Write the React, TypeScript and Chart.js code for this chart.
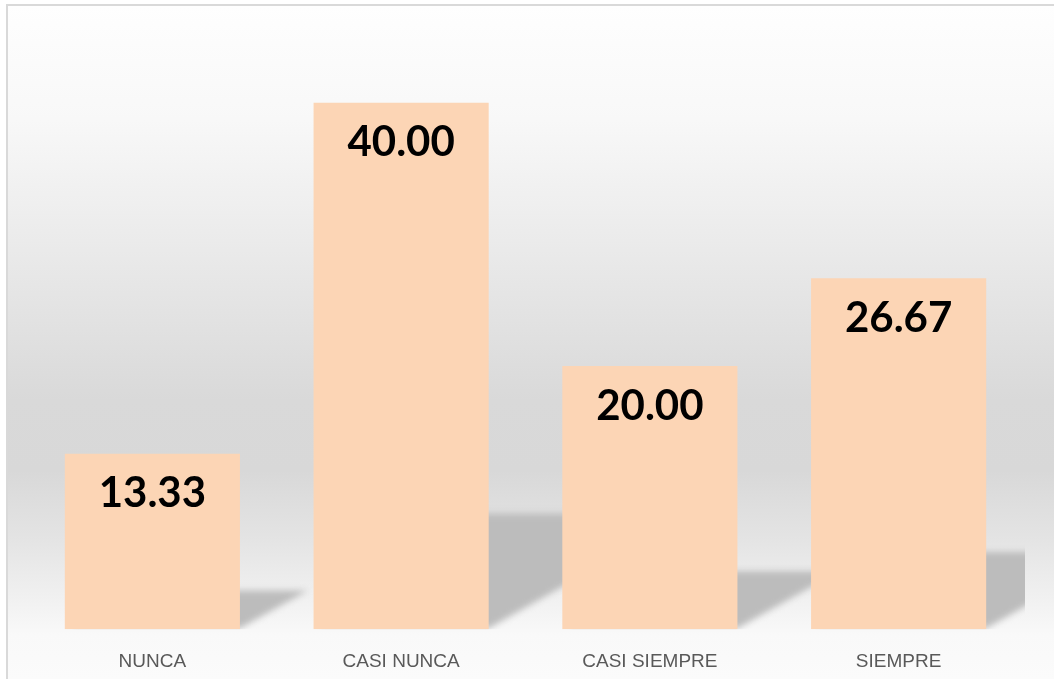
import React, { useEffect, useRef } from "react";
import { Chart, registerables } from "chart.js";

Chart.register(...registerables);

const categories = ["NUNCA", "CASI NUNCA", "CASI SIEMPRE", "SIEMPRE"];
const values = [13.33, 40.0, 20.0, 26.67];
const valueLabels = ["13.33", "40.00", "20.00", "26.67"];
const yMax = 45;

const W = 1054;
const H = 679;

const backgroundPlugin = {
  id: "bgPlugin",
  beforeDraw(chart: any) {
    const ctx = chart.ctx;
    ctx.save();
    ctx.fillStyle = "#ffffff";
    ctx.fillRect(0, 0, W, H);
    const g = ctx.createLinearGradient(0, 5, 0, H);
    const stop = (y: number, c: string) => g.addColorStop((y - 5) / (H - 5), c);
    stop(5, "#fefefe");
    stop(120, "#f8f8f8");
    stop(250, "#eaeaea");
    stop(400, "#d9d9d9");
    stop(470, "#d8d8d8");
    stop(540, "#e4e4e4");
    stop(600, "#f1f1f1");
    stop(635, "#f9f9f9");
    stop(679, "#fbfbfb");
    ctx.fillStyle = g;
    ctx.fillRect(7, 5, W - 7, H - 5);
    ctx.strokeStyle = "#d9d9d9";
    ctx.lineWidth = 2;
    ctx.beginPath();
    ctx.moveTo(7, H);
    ctx.lineTo(7, 5);
    ctx.lineTo(W, 5);
    ctx.stroke();
    ctx.restore();
  },
};

const shadowPlugin = {
  id: "shadowPlugin",
  beforeDatasetsDraw(chart: any) {
    const ctx = chart.ctx;
    const area = chart.chartArea;
    const meta = chart.getDatasetMeta(0);
    ctx.save();
    ctx.beginPath();
    ctx.rect(area.left, area.top, area.right - area.left + 2, area.bottom - area.top);
    ctx.clip();
    ctx.filter = "blur(3px)";
    ctx.fillStyle = "#bcbcbc";
    meta.data.forEach((bar: any) => {
      const p = bar.getProps(["x", "y", "width", "base"], true);
      const x0 = p.x - p.width / 2 + 8;
      const x1 = p.x + p.width / 2;
      const h = p.base - p.y;
      const sh = 0.22 * h;
      const top = p.base - sh;
      const xEnd = x1 + sh / 0.57;
      ctx.beginPath();
      ctx.moveTo(x0, p.base - 1);
      ctx.lineTo(x1, p.base - 1);
      ctx.lineTo(xEnd, top);
      ctx.lineTo(x0, top);
      ctx.closePath();
      ctx.fill();
    });
    ctx.restore();
  },
};

const labelPlugin = {
  id: "labelPlugin",
  afterDatasetsDraw(chart: any) {
    const ctx = chart.ctx;
    const meta = chart.getDatasetMeta(0);
    ctx.save();
    ctx.fillStyle = "#000000";
    ctx.font = "bold 42px Lato";
    ctx.textAlign = "center";
    ctx.textBaseline = "middle";
    meta.data.forEach((bar: any, i: number) => {
      const p = bar.getProps(["x", "y"], true);
      ctx.fillText(valueLabels[i], p.x, p.y + 40);
    });
    ctx.restore();
  },
};

export default function App() {
  const ref = useRef<HTMLCanvasElement | null>(null);
  useEffect(() => {
    if (!ref.current) return;
    const chart = new Chart(ref.current, {
      type: "bar",
      data: {
        labels: categories,
        datasets: [
          {
            data: values,
            backgroundColor: "#fcd5b5",
            borderWidth: 0,
            categoryPercentage: 1,
            barPercentage: 0.704,
          },
        ],
      },
      options: {
        animation: false,
        responsive: false,
        maintainAspectRatio: false,
        devicePixelRatio: 1,
        layout: { padding: { left: 28, right: 31, top: 37, bottom: -15 } },
        plugins: {
          legend: { display: false },
          tooltip: { enabled: false },
        },
        scales: {
          x: {
            grid: { display: false, drawTicks: false },
            border: { display: false },
            ticks: {
              color: "#595959",
              font: { family: "Liberation Sans", size: 19 },
              padding: 21,
              maxRotation: 0,
            },
          },
          y: {
            display: false,
            min: 0,
            max: yMax,
          },
        },
      },
      plugins: [backgroundPlugin, shadowPlugin, labelPlugin],
    });
    return () => chart.destroy();
  }, []);
  return (
    <div style={{ position: "fixed", left: 0, top: 0, width: W, height: H }}>
      <canvas ref={ref} width={W} height={H} style={{ width: W, height: H }} />
    </div>
  );
}
